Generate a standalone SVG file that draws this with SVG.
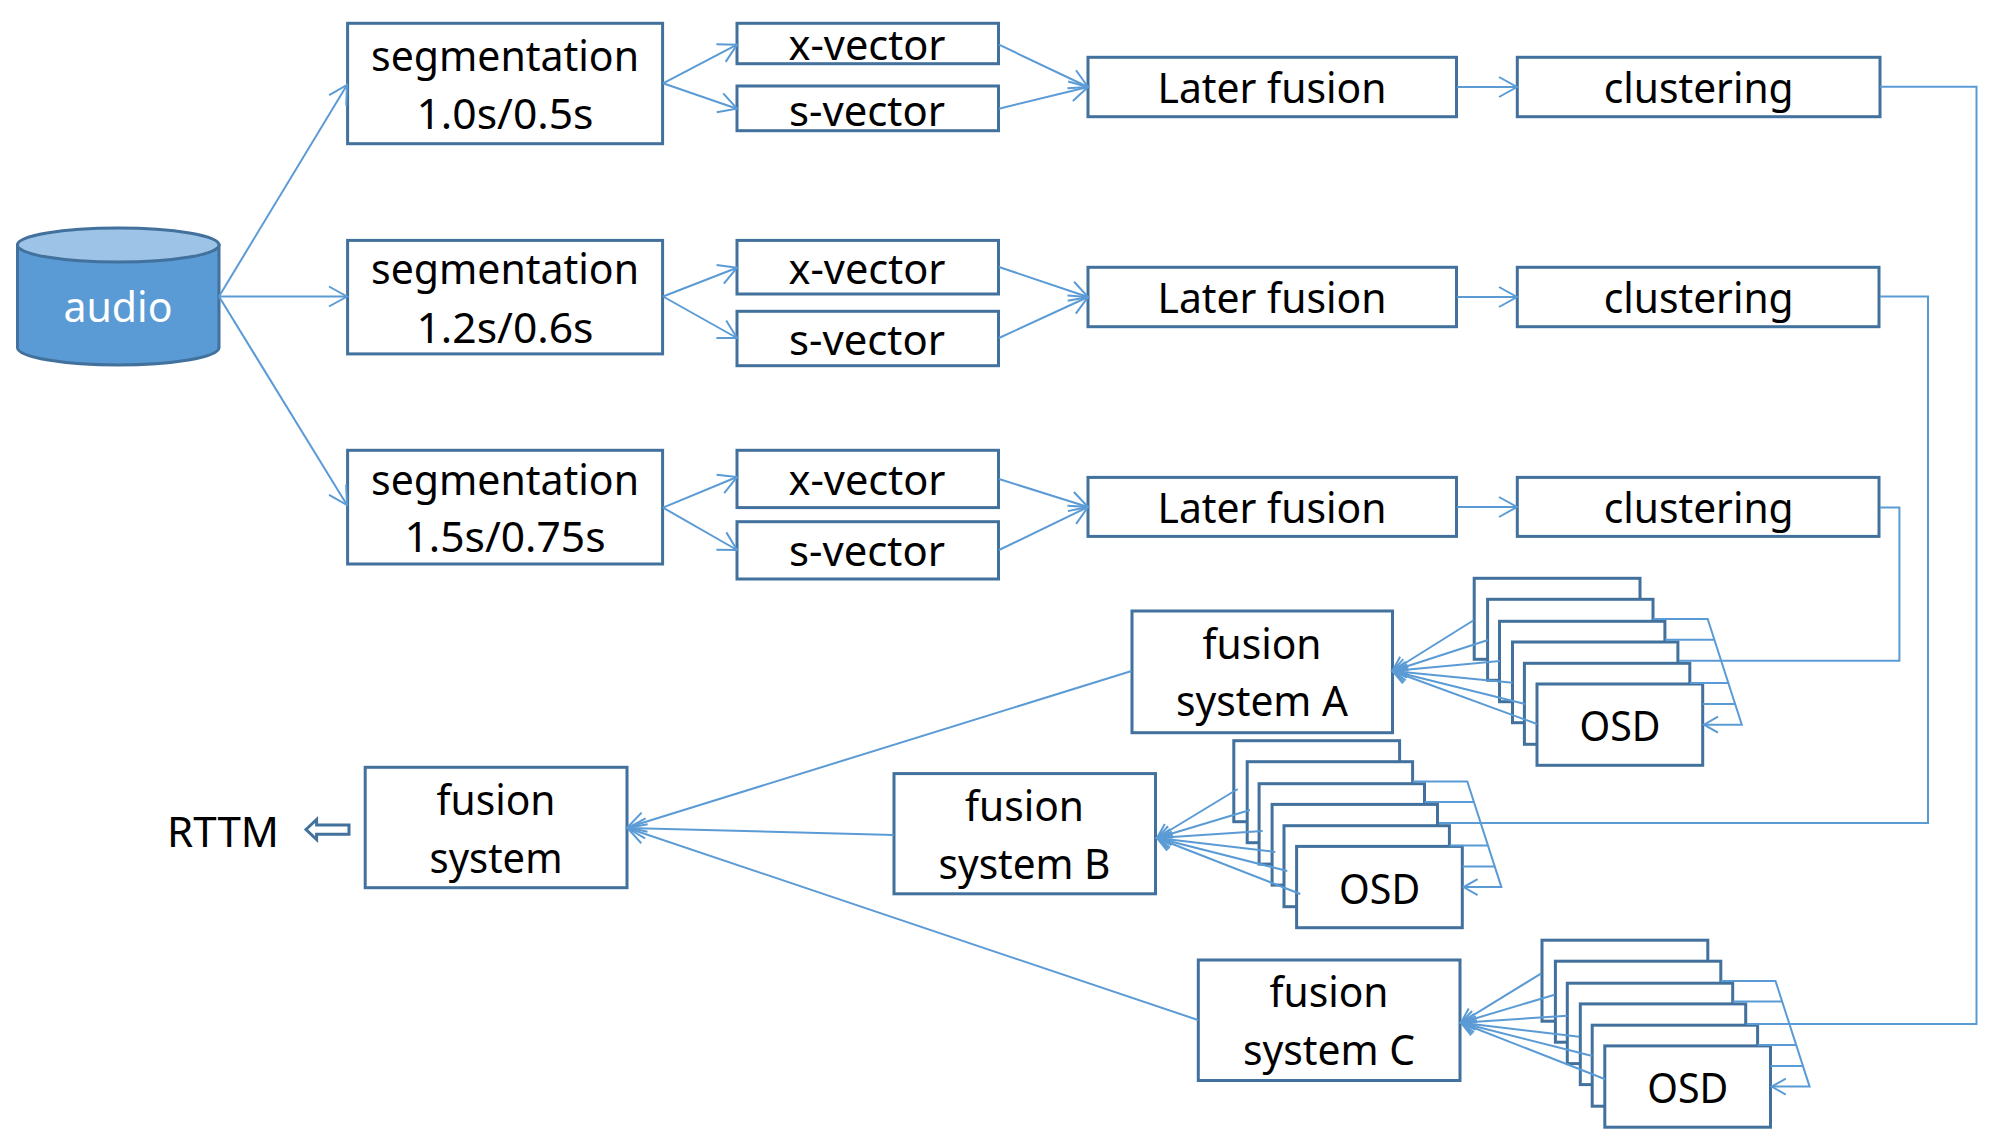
<svg xmlns="http://www.w3.org/2000/svg" width="2005" height="1144" viewBox="0 0 2005 1144">
<defs>
<style>
.box{fill:#fff;stroke:#41719C;stroke-width:3}
.t{font-family:"Noto Sans","Open Sans","DejaVu Sans",sans-serif;font-size:41px;fill:#000;text-anchor:middle}
.c{fill:none;stroke:#5B9BD5;stroke-width:2}
.a{marker-end:url(#ah)}
.s{marker-end:url(#sh)}
</style>
<marker id="ah" markerUnits="userSpaceOnUse" markerWidth="24" markerHeight="30" refX="20" refY="15" orient="auto"><path d="M2 5 L20 15 L2 25" fill="none" stroke="#5B9BD5" stroke-width="2"/></marker>
<marker id="sh" markerUnits="userSpaceOnUse" markerWidth="20" markerHeight="24" refX="16" refY="12" orient="auto"><path d="M2 4 L16 12 L2 20" fill="none" stroke="#5B9BD5" stroke-width="2"/></marker>
</defs>
<rect width="2005" height="1144" fill="#fff"/>
<g id="audio">
<path d="M17.5 245V348A100.8 17.5 0 0 0 219 348V245Z" fill="#5B9BD5" stroke="#41719C" stroke-width="3"/>
<ellipse cx="118.2" cy="245" rx="100.8" ry="17" fill="#9DC3E6" stroke="#41719C" stroke-width="3"/>
<text class="t" x="118" y="322" style="fill:#fff" textLength="109" lengthAdjust="spacingAndGlyphs">audio</text>
</g>
<g id="seg1"><rect class="box" x="347.6" y="23.3" width="315" height="120.4"/><text class="t" x="505" y="71.3" textLength="268" lengthAdjust="spacingAndGlyphs">segmentation</text><text class="t" x="505" y="129" textLength="177" lengthAdjust="spacingAndGlyphs">1.0s/0.5s</text></g>
<g id="seg2"><rect class="box" x="347.6" y="240.4" width="315" height="113.5"/><text class="t" x="505" y="284" textLength="268" lengthAdjust="spacingAndGlyphs">segmentation</text><text class="t" x="505" y="342.5" textLength="177" lengthAdjust="spacingAndGlyphs">1.2s/0.6s</text></g>
<g id="seg3"><rect class="box" x="347.6" y="450.3" width="315" height="113.7"/><text class="t" x="505" y="494.5" textLength="268" lengthAdjust="spacingAndGlyphs">segmentation</text><text class="t" x="505" y="552" textLength="201" lengthAdjust="spacingAndGlyphs">1.5s/0.75s</text></g>
<g id="xv1"><rect class="box" x="737" y="23.3" width="261.5" height="40.4"/><text class="t" x="867" y="60.3" textLength="157" lengthAdjust="spacingAndGlyphs">x-vector</text></g>
<g id="sv1"><rect class="box" x="737" y="86" width="261.5" height="44.7"/><text class="t" x="867" y="125.5" textLength="156" lengthAdjust="spacingAndGlyphs">s-vector</text></g>
<g id="xv2"><rect class="box" x="737" y="240.4" width="261.5" height="53.6"/><text class="t" x="867" y="283.5" textLength="157" lengthAdjust="spacingAndGlyphs">x-vector</text></g>
<g id="sv2"><rect class="box" x="737" y="311.3" width="261.5" height="54.4"/><text class="t" x="867" y="354.5" textLength="156" lengthAdjust="spacingAndGlyphs">s-vector</text></g>
<g id="xv3"><rect class="box" x="737" y="450.3" width="261.5" height="57.3"/><text class="t" x="867" y="495" textLength="157" lengthAdjust="spacingAndGlyphs">x-vector</text></g>
<g id="sv3"><rect class="box" x="737" y="521.7" width="261.5" height="57.3"/><text class="t" x="867" y="566" textLength="156" lengthAdjust="spacingAndGlyphs">s-vector</text></g>
<g id="lf1"><rect class="box" x="1088" y="57.3" width="368.5" height="59.4"/><text class="t" x="1272" y="102.7" textLength="229" lengthAdjust="spacingAndGlyphs">Later fusion</text></g>
<g id="lf2"><rect class="box" x="1088" y="267.3" width="368.5" height="59.4"/><text class="t" x="1272" y="312.7" textLength="229" lengthAdjust="spacingAndGlyphs">Later fusion</text></g>
<g id="lf3"><rect class="box" x="1088" y="477.4" width="368.5" height="59"/><text class="t" x="1272" y="523" textLength="229" lengthAdjust="spacingAndGlyphs">Later fusion</text></g>
<g id="cl1"><rect class="box" x="1517.3" y="57.3" width="362.7" height="59.4"/><text class="t" x="1698.7" y="102.7" textLength="190" lengthAdjust="spacingAndGlyphs">clustering</text></g>
<g id="cl2"><rect class="box" x="1517.3" y="267.3" width="361.7" height="59.4"/><text class="t" x="1698.7" y="312.7" textLength="190" lengthAdjust="spacingAndGlyphs">clustering</text></g>
<g id="cl3"><rect class="box" x="1517.3" y="477.4" width="361.7" height="59"/><text class="t" x="1698.7" y="523" textLength="190" lengthAdjust="spacingAndGlyphs">clustering</text></g>
<g id="fusionA"><rect class="box" x="1132" y="611" width="260.5" height="121.7"/><text class="t" x="1262" y="659" textLength="119" lengthAdjust="spacingAndGlyphs">fusion</text><text class="t" x="1262" y="716" textLength="172" lengthAdjust="spacingAndGlyphs">system A</text></g>
<g id="fusionB"><rect class="box" x="894" y="773.6" width="261.5" height="120.2"/><text class="t" x="1024.5" y="821" textLength="119" lengthAdjust="spacingAndGlyphs">fusion</text><text class="t" x="1024.5" y="879" textLength="172" lengthAdjust="spacingAndGlyphs">system B</text></g>
<g id="fusionC"><rect class="box" x="1198.3" y="960" width="261.7" height="120.5"/><text class="t" x="1329" y="1007" textLength="119" lengthAdjust="spacingAndGlyphs">fusion</text><text class="t" x="1329" y="1064.5" textLength="172" lengthAdjust="spacingAndGlyphs">system C</text></g>
<g id="fusion"><rect class="box" x="365.2" y="767.3" width="261.8" height="120.4"/><text class="t" x="496" y="815" textLength="119" lengthAdjust="spacingAndGlyphs">fusion</text><text class="t" x="496" y="872.5" textLength="133" lengthAdjust="spacingAndGlyphs">system</text></g>
<g id="rttm"><text class="t" x="223" y="847" textLength="112" lengthAdjust="spacingAndGlyphs" style="font-size:42px">RTTM</text></g>
<g id="hollow-arrow"><path d="M306 829.5L316.6 819.5V825H349V834.3H316.6V839.5Z" fill="#fff" stroke="#41719C" stroke-width="3"/></g>
<g id="osdA"><rect class="box" x="1474.2" y="578.3" width="165.8" height="81"/><rect class="box" x="1487.6" y="599.3" width="165.4" height="81"/><rect class="box" x="1499.5" y="621.3" width="165.4" height="80.4"/><rect class="box" x="1512.5" y="642" width="165.4" height="80.7"/><rect class="box" x="1524.4" y="663.3" width="165.4" height="81"/><rect class="box" x="1537" y="684" width="165.7" height="81.3"/><text class="t" x="1620" y="741" textLength="81" lengthAdjust="spacingAndGlyphs">OSD</text></g>
<g id="osdB" transform="translate(-240.4 162.4)"><rect class="box" x="1474.2" y="578.3" width="165.8" height="81"/><rect class="box" x="1487.6" y="599.3" width="165.4" height="81"/><rect class="box" x="1499.5" y="621.3" width="165.4" height="80.4"/><rect class="box" x="1512.5" y="642" width="165.4" height="80.7"/><rect class="box" x="1524.4" y="663.3" width="165.4" height="81"/><rect class="box" x="1537" y="684" width="165.7" height="81.3"/><text class="t" x="1620" y="741.5" textLength="81" lengthAdjust="spacingAndGlyphs">OSD</text></g>
<g id="osdC" transform="translate(67.8 361.9)"><rect class="box" x="1474.2" y="578.3" width="165.8" height="81"/><rect class="box" x="1487.6" y="599.3" width="165.4" height="81"/><rect class="box" x="1499.5" y="621.3" width="165.4" height="80.4"/><rect class="box" x="1512.5" y="642" width="165.4" height="80.7"/><rect class="box" x="1524.4" y="663.3" width="165.4" height="81"/><rect class="box" x="1537" y="684" width="165.7" height="81.3"/><text class="t" x="1620" y="741" textLength="81" lengthAdjust="spacingAndGlyphs">OSD</text></g>
<g id="connectors">
<path class="c a" d="M219 296.5L347 85"/><path class="c a" d="M219 296.5H347"/><path class="c a" d="M219 296.5L347 505"/>
<path class="c a" d="M663 83.3L737 44.7"/><path class="c a" d="M663 83.3L737 108.7"/>
<path class="c a" d="M663 296.5L737 267.7"/><path class="c a" d="M663 296.5L737 338"/>
<path class="c a" d="M663 507.6L737 477"/><path class="c a" d="M663 507.6L737 550"/>
<path class="c a" d="M999 44.7L1088 87"/><path class="c a" d="M999 108.7L1088 87"/>
<path class="c a" d="M999 267L1088 297"/><path class="c a" d="M999 338L1088 297"/>
<path class="c a" d="M999 479L1088 507"/><path class="c a" d="M999 550L1088 507"/>
<path class="c a" d="M1457 87H1517"/><path class="c a" d="M1457 297H1517"/><path class="c a" d="M1457 507H1517"/>
<path class="c" d="M1880 86.7H1976.5V1024H1746.5"/>
<path class="c" d="M1880 296.5H1928V823H1439"/>
<path class="c" d="M1880 507.6H1899.4V660.7H1679"/>
<path class="c a" d="M1131.6 671L627.4 827.5"/><path class="c a" d="M893.8 835L627.4 828"/><path class="c a" d="M1198 1020L627.4 828"/>
<g id="fan-a">
<path class="c s" d="M1474 620L1392.5 671"/><path class="c s" d="M1488 640L1392.5 671"/><path class="c s" d="M1500 661L1392.5 671"/><path class="c s" d="M1512.5 682.7L1392.5 671"/><path class="c s" d="M1525 704L1392.5 671"/><path class="c s" d="M1537 724L1392.5 671"/>
</g>
<g id="fan-b">
<path class="c s" d="M1237.7 789L1157 838"/><path class="c s" d="M1250 810L1157 838"/><path class="c s" d="M1262.7 831L1157 838"/><path class="c s" d="M1275.3 852L1157 838"/><path class="c s" d="M1287.3 871L1157 838"/><path class="c s" d="M1300.3 894L1157 838"/>
</g>
<g id="fan-c">
<path class="c s" d="M1541.4 973.3L1461 1022.7"/><path class="c s" d="M1554.6 994.7L1461 1022.7"/><path class="c s" d="M1567.3 1015.7L1461 1022.7"/><path class="c s" d="M1579.3 1036.7L1461 1022.7"/><path class="c s" d="M1592.4 1056L1461 1022.7"/><path class="c s" d="M1605.2 1079.3L1461 1022.7"/>
</g>
<g id="wires-a">
<path class="c s" d="M1653 619H1707.7L1741.8 724.7H1704"/><path class="c" d="M1665 639.7H1714.6"/><path class="c" d="M1690 683H1728.4"/><path class="c" d="M1703 704H1735"/>
</g>
<g id="wires-b" transform="translate(-240.4 162.4)">
<path class="c s" d="M1653 619H1707.7L1741.8 724.7H1704"/><path class="c" d="M1665 639.7H1714.6"/><path class="c" d="M1690 683H1728.4"/><path class="c" d="M1703 704H1735"/>
</g>
<g id="wires-c" transform="translate(67.8 361.9)">
<path class="c s" d="M1653 619H1707.7L1741.8 724.7H1704"/><path class="c" d="M1665 639.7H1714.6"/><path class="c" d="M1690 683H1728.4"/><path class="c" d="M1703 704H1735"/>
</g>
</g>
</svg>
